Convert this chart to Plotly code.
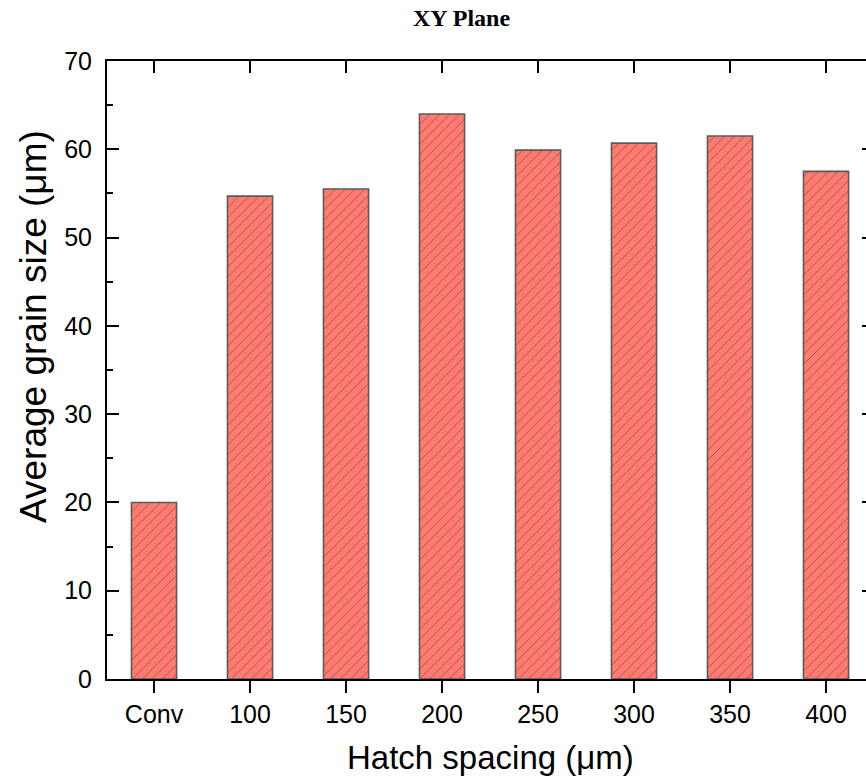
import plotly.graph_objects as go

# Average grain size in the XY plane for each hatch spacing
categories = ["Conv", "100", "150", "200", "250", "300", "350", "400"]
grain_size = [20.0, 54.7, 55.5, 64.0, 59.9, 60.7, 61.5, 57.5]

y_ticks = [0, 10, 20, 30, 40, 50, 60, 70]

W, H = 866, 780
ML, MT, MB, MR = 107, 61, 101, 0
plot_w = W - ML - MR
plot_h = H - MT - MB

axis_font = dict(family="Liberation Sans, Arial, sans-serif", size=25, color="#000")
x_title_font = dict(family="Liberation Sans, Arial, sans-serif", size=33, color="#000")
y_title_font = dict(family="Liberation Sans, Arial, sans-serif", size=37, color="#000")

fig = go.Figure()

fig.add_trace(go.Bar(
    x=categories,
    y=grain_size,
    width=0.47,
    marker=dict(
        color="#FF7A70",
        line=dict(color="#5b5b5b", width=1.6),
        pattern=dict(shape="/", fgcolor="#8a4a45", fgopacity=0.75,
                     size=7, solidity=0.14),
    ),
    hoverinfo="x+y",
))

# helper trace so the mirrored top/right axes are drawn
fig.add_trace(go.Scatter(
    x=categories, y=grain_size, mode="none",
    xaxis="x2", yaxis="y2", hoverinfo="skip", showlegend=False,
))

x_range = [-0.49, -0.49 + plot_w / 96.0]

fig.update_layout(
    width=W, height=H,
    margin=dict(l=ML, r=MR, t=MT, b=MB),
    paper_bgcolor="white", plot_bgcolor="white",
    showlegend=False,
    bargap=0.5,
    xaxis=dict(
        type="category",
        range=x_range,
        showline=True, linecolor="#000", linewidth=2,
        ticks="outside", ticklen=12, tickwidth=2, tickcolor="#000",
        tickfont=axis_font,
        showgrid=False, zeroline=False,
    ),
    xaxis2=dict(
        type="category",
        overlaying="x", side="top", matches="x",
        range=x_range,
        showline=True, linecolor="#000", linewidth=2,
        ticks="inside", ticklen=12, tickwidth=2, tickcolor="#000",
        tickmode="array", tickvals=categories,
        showticklabels=False, showgrid=False, zeroline=False,
    ),
    yaxis=dict(
        range=[0, 70],
        tickmode="array", tickvals=y_ticks,
        showline=True, linecolor="#000", linewidth=2,
        ticks="inside", ticklen=12, tickwidth=2, tickcolor="#000",
        minor=dict(ticks="inside", ticklen=6, tickwidth=2, tickcolor="#000", dtick=5),
        tickfont=axis_font, ticklabelstandoff=8,
        showgrid=False, zeroline=False,
    ),
    yaxis2=dict(
        range=[0, 70],
        overlaying="y", side="right", matches="y",
        tickmode="array", tickvals=y_ticks,
        showline=False,
        ticks="inside", ticklen=4, tickwidth=2, tickcolor="#000",
        showticklabels=False, showgrid=False, zeroline=False,
    ),
    annotations=[
        dict(text="<b>XY Plane</b>", xref="paper", yref="paper",
             x=(461 - ML) / plot_w, y=(H - MB - 18) / plot_h,
             xanchor="center", yanchor="middle", showarrow=False,
             font=dict(family="Liberation Serif, Times New Roman, serif", size=24, color="#000")),
        dict(text="Hatch spacing (μm)", xref="x", yref="paper",
             x=3.5, y=-(757 - (H - MB)) / plot_h,
             xanchor="center", yanchor="middle", showarrow=False,
             font=x_title_font),
        dict(text="Average grain size (μm)", xref="paper", yref="paper",
             x=(33 - ML) / plot_w, y=(H - MB - 327) / plot_h,
             xanchor="center", yanchor="middle", textangle=-90, showarrow=False,
             font=y_title_font),
    ],
)

fig.write_html("out.html")
